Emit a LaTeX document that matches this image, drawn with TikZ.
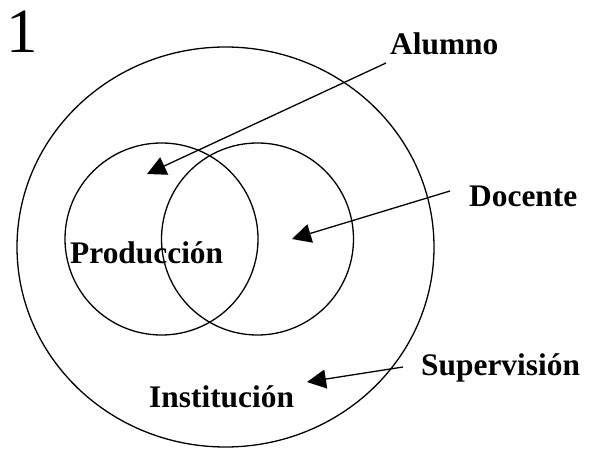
\documentclass[tikz,border=0pt]{standalone}
\usepackage{fontspec}
\setmainfont{Liberation Serif}
\usetikzlibrary{arrows.meta,shapes.geometric}
\begin{document}
\begin{tikzpicture}[x=1pt,y=-1pt,
  ring/.style={draw=black,line width=1.3pt,ellipse,inner sep=0pt},
  lbl/.style={anchor=base west,inner sep=0pt,font=\fontsize{31.4}{36}\selectfont\bfseries},
  pointer/.style={line width=1.3pt,-{Triangle[length=19pt,width=19pt]}}]
\useasboundingbox (0,0) rectangle (591,449);
% circles
\node[ring,minimum width=417pt,minimum height=400pt] (inst) at (225.5,247) {};
\node[ring,minimum width=193pt,minimum height=192pt] (prodc) at (161.5,239) {};
\node[ring,minimum width=192pt,minimum height=192pt] (docc) at (257.5,239) {};
% labels
\node[anchor=base west,inner sep=0pt,font=\fontsize{63}{70}\selectfont] (num) at (6,53) {1};
\node[lbl] (alumno) at (390,55) {Alumno};
\node[lbl] (docente) at (469,206) {Docente};
\node[lbl] (superv) at (421,375) {Supervisión};
\node[lbl] (produccion) at (70,263) {Producción};
\node[lbl] (institucion) at (149,407) {Institución};
% arrow ends
\coordinate (a1) at (386,63);
\coordinate (a2) at (147,174);
\coordinate (d1) at (450,191);
\coordinate (d2) at (292,239);
\coordinate (s1) at (403,367);
\coordinate (s2) at (307,382);
\draw[pointer] (a1) -- (a2);
\draw[pointer] (d1) -- (d2);
\draw[pointer] (s1) -- (s2);
\end{tikzpicture}
\end{document}
